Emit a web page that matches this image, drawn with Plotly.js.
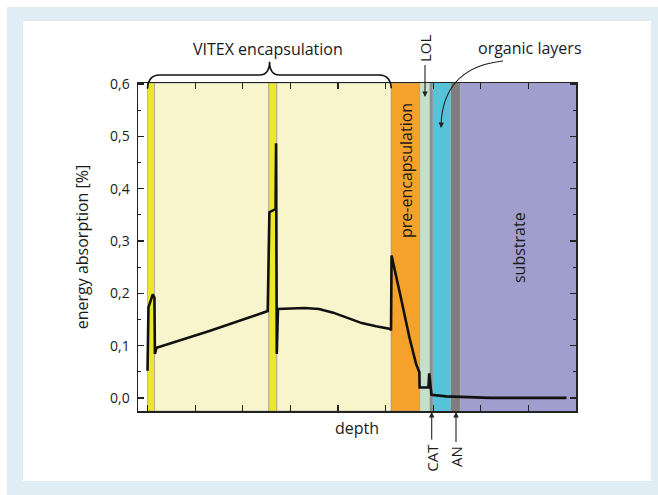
<!DOCTYPE html>
<html>
<head>
<meta charset="utf-8">
<script src="https://cdn.plot.ly/plotly-3.0.1.min.js"></script>
<style>html,body{margin:0;padding:0;background:#fff;}#chart{width:658px;height:495px;}</style>
</head>
<body>
<div id="chart"></div>
<script>
// ---- data ----
const depth = [0.0, 0.02, 0.11, 0.145, 0.155, 0.19, 1.3, 2.525, 2.56, 2.69, 2.70, 2.715, 2.74, 3.0, 3.3, 3.6, 3.9, 4.2, 4.5, 4.8, 5.1, 5.115, 5.126, 5.29, 5.50, 5.64, 5.71, 5.715, 5.90, 5.917, 5.94, 5.965, 6.27, 6.72, 7.2, 8.80];
const absorption = [0.052, 0.173, 0.198, 0.192, 0.084, 0.096, 0.128, 0.166, 0.355, 0.361, 0.487, 0.084, 0.170, 0.171, 0.172, 0.170, 0.163, 0.153, 0.143, 0.137, 0.132, 0.129, 0.272, 0.205, 0.116, 0.065, 0.049, 0.020, 0.020, 0.047, 0.020, 0.006, 0.003, 0.001, 0.0, 0.0];

// layer boundaries along depth
const layerStart = [0.0, 0.147, 2.548, 2.716, 5.12, 5.729, 5.924, 5.994, 6.366, 6.576];
const layerEnd   = [0.147, 2.548, 2.716, 5.12, 5.729, 5.924, 5.994, 6.366, 6.576, 9.0];
const layerColor = ['#ece72b', '#f8f5cd', '#ece72b', '#f8f5cd', '#f5a22c', '#c5e0c8', '#8c8f8f', '#56c3d9', '#7d7e80', '#a09ecd'];

const yTickVals = [0, 0.1, 0.2, 0.3, 0.4, 0.5, 0.6];
const yTickText = ['0,0', '0,1', '0,2', '0,3', '0,4', '0,5', '0,6'];

// ---- geometry helpers (pixel -> paper) ----
const L = 138, R = 82, T = 83, B = 84, W = 658, H = 495;
const pw = W - L - R, ph = H - T - B;
const fx = px => (px - L) / pw;
const fy = py => (H - B - py) / ph;

const FONT = '"Open Sans", "DejaVu Sans", sans-serif';
const TXT = '#1a1a1a';

const shapes = [];
// outer frame
shapes.push({type:'rect', xref:'paper', yref:'paper', x0:fx(7), x1:fx(660), y0:fy(7), y1:fy(497), fillcolor:'#e1edf4', line:{width:0}, layer:'below'});
shapes.push({type:'rect', xref:'paper', yref:'paper', x0:fx(23), x1:fx(651), y0:fy(21), y1:fy(481), fillcolor:'#ffffff', line:{width:0}, layer:'below'});
// layer bands
for (let i = 0; i < layerStart.length; i++) {
  shapes.push({type:'rect', xref:'x', yref:'paper', x0:layerStart[i], x1:layerEnd[i], y0:0, y1:1,
    fillcolor:layerColor[i], line:{width:(i < 5 ? 0.8 : 0), color:'rgba(140,140,140,0.7)'}, layer:'below'});
}
// VITEX brace (x in depth units, y in paper)
const yl = fy(75), ye = fy(88.3), yt = fy(61.7);
shapes.push({type:'path', xref:'x', yref:'paper', layer:'above',
  path:`M 0.0,${ye} Q 0.02,${yl} 0.25,${yl} L 2.35,${yl} Q 2.56,${yl} 2.563,${yt} Q 2.566,${yl} 2.77,${yl} L 4.87,${yl} Q 5.1,${yl} 5.12,${ye}`,
  line:{color:'#111', width:1.6}});
// curved arrow for organic layers
shapes.push({type:'path', xref:'paper', yref:'paper', layer:'above',
  path:`M ${fx(503)},${fy(61)} Q ${fx(447)},${fy(67)} ${fx(441.5)},${fy(118)}`,
  line:{color:'#222', width:1.1}});

const C = {xanchor:'center', yanchor:'middle'};
const annotations = [
  Object.assign({text:'VITEX encapsulation', xref:'paper', yref:'paper', x:fx(268.3), y:fy(49), showarrow:false, font:{size:16, color:TXT, family:FONT}}, C),
  Object.assign({text:'organic layers', xref:'paper', yref:'paper', x:fx(530), y:fy(48), showarrow:false, font:{size:16, color:TXT, family:FONT}}, C),
  {text:'', xref:'paper', yref:'paper', x:fx(441), y:fy(128), ax:0.6, ay:-12, showarrow:true, arrowhead:2, arrowsize:1, arrowwidth:1.1, arrowcolor:'#222'},
  {text:'LOL', textangle:-90, xref:'paper', yref:'paper', x:fx(425), y:fy(97), ax:0, ay:-48, showarrow:true, arrowhead:2, arrowsize:1, arrowwidth:1.1, arrowcolor:'#222', borderpad:2, font:{size:15, color:TXT, family:FONT}},
  {text:'CAT', textangle:-90, xref:'paper', yref:'paper', x:fx(431.7), y:fy(412), ax:0, ay:46, showarrow:true, arrowhead:2, arrowsize:1, arrowwidth:1.1, arrowcolor:'#222', borderpad:4, font:{size:15, color:TXT, family:FONT}},
  {text:'AN', textangle:-90, xref:'paper', yref:'paper', x:fx(456), y:fy(412), ax:0, ay:45, showarrow:true, arrowhead:2, arrowsize:1, arrowwidth:1.1, arrowcolor:'#222', borderpad:4, font:{size:15, color:TXT, family:FONT}},
  Object.assign({text:'pre-encapsulation', textangle:-90, xref:'paper', yref:'paper', x:fx(406), y:fy(171), showarrow:false, font:{size:16, color:TXT, family:FONT}}, C),
  Object.assign({text:'substrate', textangle:-90, xref:'paper', yref:'paper', x:fx(519), y:fy(248), showarrow:false, font:{size:16, color:TXT, family:FONT}}, C)
];

const data = [{
  x: depth, y: absorption, type:'scatter', mode:'lines',
  line:{color:'#111', width:2.6}, hoverinfo:'skip', showlegend:false
}];

const layout = {
  width:W, height:H,
  margin:{l:L, r:R, t:T, b:B, pad:0},
  paper_bgcolor:'#ffffff', plot_bgcolor:'#ffffff',
  font:{family:FONT, color:TXT},
  separators:', ',
  showlegend:false,
  xaxis:{
    range:[-0.2, 9], dtick:1, tick0:0, ticks:'inside', ticklen:6, tickwidth:1.2, tickcolor:'#222',
    showticklabels:false, showgrid:false, zeroline:false, showline:true, linecolor:'#222', linewidth:1.5, mirror:'ticks',
    title:{text:'depth', font:{size:16, color:TXT, family:FONT}, standoff:11}
  },
  yaxis:{
    range:[-0.025, 0.602], tickvals:yTickVals, ticktext:yTickText, ticks:'inside', ticklen:6, tickwidth:1.2, tickcolor:'#222',
    minor:{dtick:0.05, tick0:0, ticks:'inside', ticklen:3, tickwidth:1.1, tickcolor:'#222', showgrid:false},
    tickfont:{size:14, color:TXT, family:FONT}, ticklabelstandoff:4,
    showgrid:false, zeroline:false, showline:true, linecolor:'#222', linewidth:1.5, mirror:'ticks',
    title:{text:'energy absorption [%]', font:{size:16, color:TXT, family:FONT}, standoff:17}
  },
  shapes: shapes,
  annotations: annotations
};

Plotly.newPlot('chart', data, layout, {displayModeBar:false, staticPlot:true});
</script>
</body>
</html>
